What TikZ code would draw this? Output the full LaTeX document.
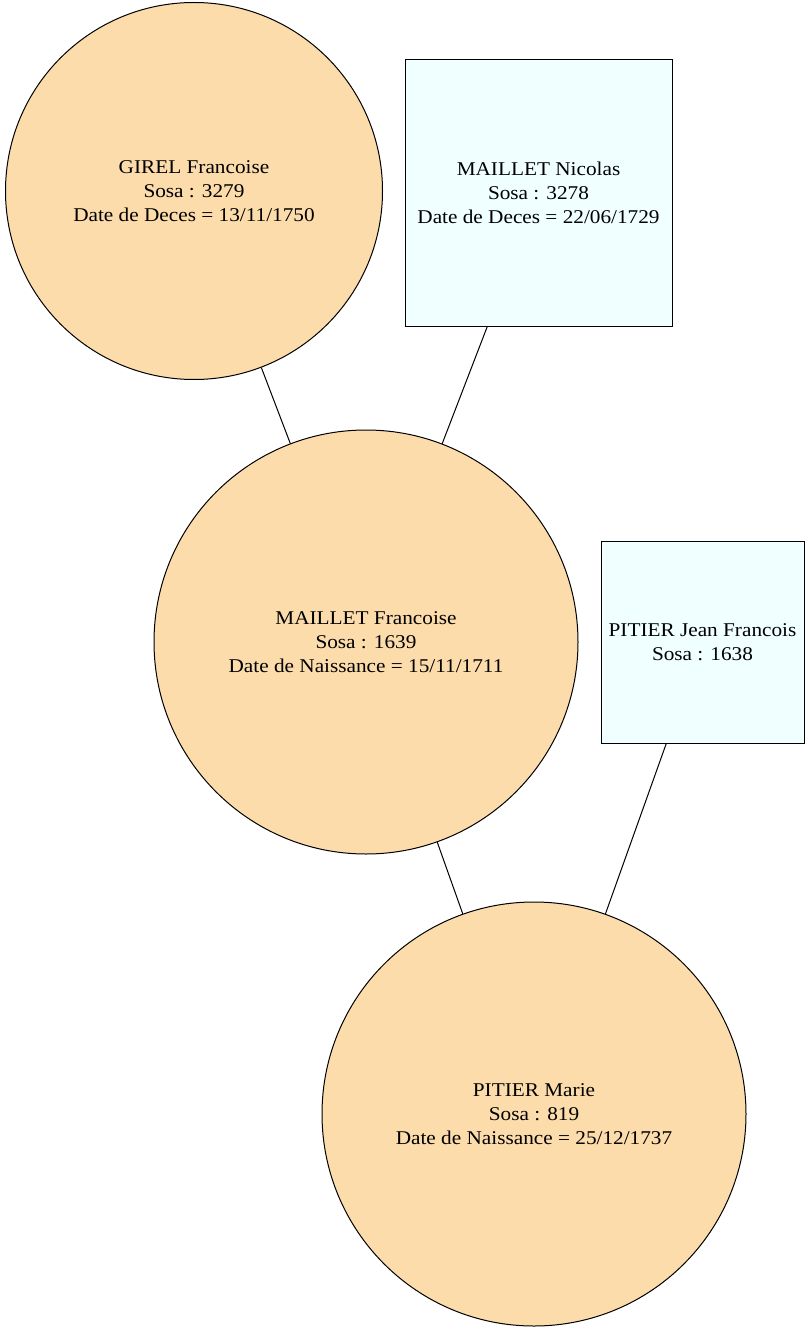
\documentclass[tikz,border=0pt]{standalone}
\usepackage{fontspec}
\setmainfont{Liberation Serif}[FakeStretch=1.09]
\definecolor{personf}{HTML}{FDDCAC}
\definecolor{personm}{HTML}{F0FFFF}
\begin{document}
\begin{tikzpicture}[x=1pt,y=-1pt,
  base/.style={draw=black,line width=1pt,inner sep=0pt,align=center,
    font=\fontsize{19.5}{24}\selectfont},
  woman/.style={base,circle,fill=personf},
  man/.style={base,rectangle,fill=personm},
  link/.style={line width=1pt}]
\useasboundingbox (0,0) rectangle (810,1332);
\node[woman,minimum size=377pt] (girel) at (194,191)
  {GIREL Francoise\\Sosa : 3279\\Date de Deces = 13/11/1750};
\node[man,minimum width=267pt,minimum height=266pt] (nicolas) at (538.5,193)
  {MAILLET Nicolas\\Sosa : 3278\\Date de Deces = 22/06/1729};
\node[woman,minimum size=424pt] (francoise) at (366,642)
  {MAILLET Francoise\\Sosa : 1639\\Date de Naissance = 15/11/1711};
\node[man,minimum width=203pt,minimum height=202pt] (jean) at (702.5,642)
  {PITIER Jean Francois\\Sosa : 1638};
\node[woman,minimum size=424pt] (marie) at (534,1114)
  {PITIER Marie\\Sosa : 819\\Date de Naissance = 25/12/1737};
\draw[link] (girel) -- (francoise);
\draw[link] (nicolas) -- (francoise);
\draw[link] (francoise) -- (marie);
\draw[link] (jean) -- (marie);
\end{tikzpicture}
\end{document}
